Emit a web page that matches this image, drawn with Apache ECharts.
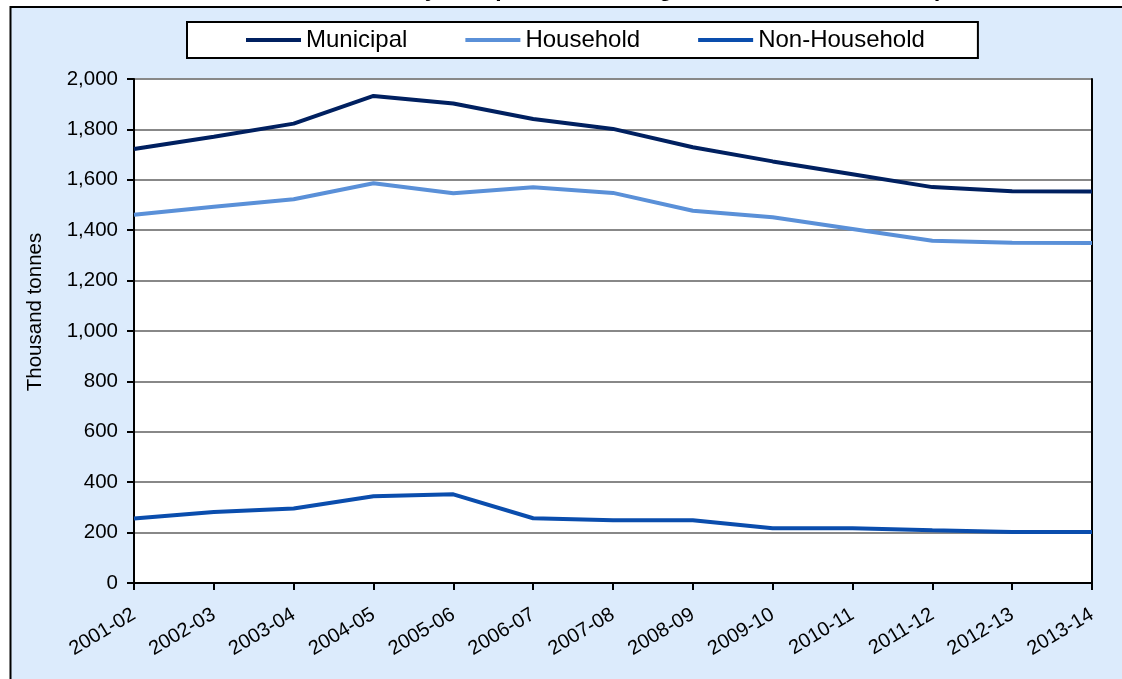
<!DOCTYPE html>
<html>
<head>
<meta charset="utf-8">
<script src="https://cdn.jsdelivr.net/npm/echarts@6/dist/echarts.min.js"></script>
<style>
html,body{margin:0;padding:0;background:#fff;}
#chart{width:1122px;height:679px;}
</style>
</head>
<body>
<div id="chart"></div>
<script>
const categories = ['2001-02','2002-03','2003-04','2004-05','2005-06','2006-07','2007-08','2008-09','2009-10','2010-11','2011-12','2012-13','2013-14'];
const municipal = [1722, 1771, 1823, 1933, 1903, 1841, 1802, 1729, 1673, 1622, 1571, 1555, 1554];
const household = [1461, 1493, 1523, 1586, 1547, 1570, 1548, 1477, 1451, 1405, 1358, 1350, 1349];
const nonHousehold = [256, 282, 296, 344, 352, 257, 249, 249, 217, 217, 209, 202, 202];
const seriesNames = ['Municipal', 'Household', 'Non-Household'];
const yTickValues = [0, 200, 400, 600, 800, 1000, 1200, 1400, 1600, 1800, 2000];

const FONT = "'Liberation Sans', Arial, sans-serif";
const chart = echarts.init(document.getElementById('chart'), null, {renderer: 'canvas'});

const option = {
  animation: false,
  backgroundColor: '#fff',
  graphic: [
    {
      type: 'rect', z: -10,
      shape: {x: 10.5, y: 7, width: 1200, height: 800},
      style: {fill: '#DCEBFC', stroke: '#000', lineWidth: 2}
    },
    {
      type: 'text', z: -5,
      x: 168, y: 1.5,
      style: {
        text: 'Total Waste Collected by Component and Origin of Waste in Scotland (thousand tonnes)',
        font: 'bold 23px ' + FONT,
        fill: '#000',
        align: 'left',
        verticalAlign: 'bottom'
      }
    },
    {
      type: 'text',
      x: 35, y: 312,
      rotation: Math.PI / 2,
      style: {
        text: 'Thousand tonnes',
        font: '20.5px ' + FONT,
        fill: '#000',
        align: 'center',
        verticalAlign: 'middle'
      }
    }
  ],
  legend: {
    data: seriesNames,
    left: 187, top: 22,
    padding: [6, 53, 6, 59],
    itemGap: 58,
    itemWidth: 55,
    itemHeight: 4,
    icon: 'rect',
    backgroundColor: '#fff',
    borderColor: '#000',
    borderWidth: 2,
    borderRadius: 0,
    textStyle: {fontFamily: FONT, fontSize: 24, color: '#000'}
  },
  grid: {
    left: 134, right: 30, top: 79, bottom: 96,
    show: true, backgroundColor: '#fff', borderWidth: 0
  },
  xAxis: [
    {
      type: 'category',
      data: categories,
      boundaryGap: false,
      axisLine: {lineStyle: {color: '#000', width: 2}},
      axisTick: {show: true, length: 7, interval: 0, lineStyle: {color: '#000', width: 2}},
      axisLabel: {interval: 0, rotate: 31, margin: 30, fontFamily: FONT, fontSize: 20, color: '#000'},
      splitLine: {show: false}
    },
    {
      type: 'category',
      data: categories,
      boundaryGap: false,
      position: 'top',
      axisLine: {lineStyle: {color: '#000', width: 2}},
      axisTick: {show: false},
      axisLabel: {show: false},
      splitLine: {show: false}
    }
  ],
  yAxis: [
    {
      type: 'value',
      min: 0, max: 2000, interval: 200,
      axisLine: {show: true, lineStyle: {color: '#000', width: 2}},
      axisTick: {show: true, length: 7, lineStyle: {color: '#000', width: 2}},
      axisLabel: {
        margin: 16, fontFamily: FONT, fontSize: 20.5, color: '#000',
        formatter: function (v) { return yTickValues.indexOf(v) >= 0 ? v.toLocaleString('en-US') : ''; }
      },
      splitLine: {show: true, lineStyle: {color: '#888', width: 2}}
    },
    {
      type: 'value',
      min: 0, max: 2000, interval: 200,
      position: 'right',
      axisLine: {show: true, lineStyle: {color: '#000', width: 2}},
      axisTick: {show: false},
      axisLabel: {show: false},
      splitLine: {show: false}
    }
  ],
  series: [
    {name: seriesNames[0], type: 'line', data: municipal, symbol: 'none', color: '#002060', lineStyle: {width: 4, color: '#002060'}, z: 5},
    {name: seriesNames[1], type: 'line', data: household, symbol: 'none', color: '#5A90D8', lineStyle: {width: 4, color: '#5A90D8'}, z: 4},
    {name: seriesNames[2], type: 'line', data: nonHousehold, symbol: 'none', color: '#0A4DAD', lineStyle: {width: 4, color: '#0A4DAD'}, z: 3}
  ]
};
chart.setOption(option);
</script>
</body>
</html>
